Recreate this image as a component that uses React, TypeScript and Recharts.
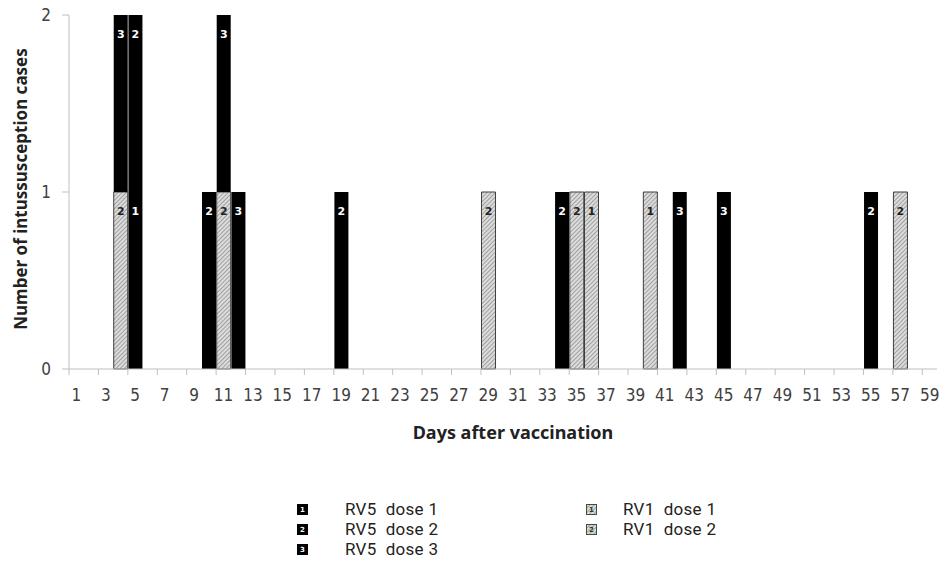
import React from 'react';
import { BarChart, Bar, XAxis, YAxis, LabelList } from 'recharts';

// days after vaccination (categories)
const days = Array.from({ length: 59 }, (_, i) => i + 1);

// day of onset for each intussusception case, per vaccine / dose
const rv5Dose1Days = [5];
const rv5Dose2Days = [5, 10, 19, 34, 55];
const rv5Dose3Days = [4, 11, 12, 42, 45];
const rv1Dose1Days = [36, 40];
const rv1Dose2Days = [4, 11, 29, 35, 57];

const yTicks = [0, 1, 2];

const count = (list: number[], d: number) => list.filter((v) => v === d).length;

const data = days.map((d) => ({
  day: d,
  rv5d1: count(rv5Dose1Days, d),
  rv5d2: count(rv5Dose2Days, d),
  rv1d1: count(rv1Dose1Days, d),
  rv1d2: count(rv1Dose2Days, d),
  rv5d3: count(rv5Dose3Days, d),
}));

// stacking order bottom -> top
const series = [
  { key: 'rv5d1', dose: '1', hatched: false },
  { key: 'rv5d2', dose: '2', hatched: false },
  { key: 'rv1d1', dose: '1', hatched: true },
  { key: 'rv1d2', dose: '2', hatched: true },
  { key: 'rv5d3', dose: '3', hatched: false },
];

const W = 939;
const H = 450;
const LEFT = 69;
const RIGHT = 937;
const BAND = (RIGHT - LEFT) / days.length;
const AXIS = '#bfbfbf';
const TICK_FONT = '"Liberation Sans Narrow", "DejaVu Sans Condensed", sans-serif';
const TEXT_FONT = '"Noto Sans", "Open Sans", sans-serif';
const LEGEND_FONT = 'Roboto, "Noto Sans", sans-serif';

const XTick = (props: any) => {
  const { x, y, payload } = props;
  const bx = x - BAND / 2;
  return (
    <g>
      <line x1={bx} x2={bx} y1={y - 6} y2={y} stroke={AXIS} strokeWidth={1} />
      <text x={x} y={y + 20} textAnchor="middle" dominantBaseline="central"
        fontSize={17} fill="#404040" fontFamily={TICK_FONT}>
        {payload.value}
      </text>
    </g>
  );
};

const YTick = (props: any) => {
  const { x, y, payload } = props;
  return (
    <text x={x - 5} y={y} textAnchor="end" dominantBaseline="central"
      fontSize={17} fill="#404040" fontFamily={TICK_FONT}>
      {payload.value}
    </text>
  );
};

const segLabel = (dose: string, hatched: boolean) => (p: any) => {
  const { x, y, width, height } = p;
  if (!height || height <= 0) return null;
  return (
    <text x={x + width / 2} y={y + 19} textAnchor="middle" dominantBaseline="central"
      fontSize={11} fontWeight="bold" fontFamily='"DejaVu Sans", sans-serif'
      fill={hatched ? '#222' : '#fff'}>
      {dose}
    </text>
  );
};

const LegendBox = ({ dose, hatched }: { dose: string; hatched: boolean }) => (
  <svg width={11} height={11} style={{ display: 'block' }}>
    <defs>
      <pattern id={`lg-hatch-${dose}`} patternUnits="userSpaceOnUse" width={3} height={3}
        patternTransform="rotate(45)">
        <rect width={3} height={3} fill="#dcdcdc" />
        <line x1={0} y1={0} x2={0} y2={3} stroke="#777" strokeWidth={1.2} />
      </pattern>
    </defs>
    <rect x={0.5} y={0.5} width={10} height={10}
      fill={hatched ? `url(#lg-hatch-${dose})` : '#000'}
      stroke={hatched ? '#3d4f3d' : '#000'} strokeWidth={1} />
    <text x={5.5} y={6} textAnchor="middle" dominantBaseline="central" fontSize={7}
      fontWeight="bold" fontFamily='"DejaVu Sans", sans-serif' fill={hatched ? '#333' : '#fff'}>
      {dose}
    </text>
  </svg>
);

const LegendRow = ({ dose, hatched, text, left, top }: any) => (
  <div style={{ position: 'absolute', left, top, display: 'flex', alignItems: 'center', height: 20 }}>
    <LegendBox dose={dose} hatched={hatched} />
    <span style={{ marginLeft: hatched ? 26 : 37, fontSize: 17, color: '#222', fontFamily: LEGEND_FONT, whiteSpace: 'pre', lineHeight: '20px', letterSpacing: 0.3 }}>
      {text}
    </span>
  </div>
);

export default function App() {
  return (
    <div style={{ position: 'absolute', left: 0, top: 0, width: 939, height: 577, background: '#fff' }}>
      <BarChart width={W} height={H} data={data} barCategoryGap="4%"
        margin={{ top: 15, right: W - RIGHT, left: 0, bottom: 0 }}>
        <defs>
          <pattern id="hatch" patternUnits="userSpaceOnUse" width={3} height={3}
            patternTransform="rotate(45)">
            <rect width={3} height={3} fill="#dcdcdc" />
            <line x1={0} y1={0} x2={0} y2={3} stroke="#777" strokeWidth={1.2} />
          </pattern>
        </defs>
        <XAxis dataKey="day" interval={1} height={H - 369} tickSize={6} tickMargin={0}
          axisLine={{ stroke: AXIS }} tickLine={false} tick={<XTick />}
          label={{
            content: () => (
              <text x={513} y={432} textAnchor="middle" dominantBaseline="central"
                fontSize={18} fontWeight="bold" fill="#222" fontFamily={TEXT_FONT}>
                Days after vaccination
              </text>
            ),
          }} />
        <YAxis width={LEFT} domain={[0, 2]} ticks={yTicks} interval={0} tickSize={7}
          tickMargin={6} axisLine={{ stroke: AXIS }} tickLine={{ stroke: AXIS }} tick={<YTick />}
          label={{
            content: () => (
              <text x={20} y={189} textAnchor="middle" dominantBaseline="central"
                transform="rotate(-90 20 189)" fontSize={17} fontWeight="bold" fill="#222"
                fontFamily={TEXT_FONT}>
                Number of intussusception cases
              </text>
            ),
          }} />
        {series.map((s) => (
          <Bar key={s.key} dataKey={s.key} stackId="a" isAnimationActive={false}
            fill={s.hatched ? 'url(#hatch)' : '#000'}
            stroke={s.hatched ? '#3f3f3f' : 'none'} strokeWidth={1}>
            <LabelList dataKey={s.key} content={segLabel(s.dose, s.hatched)} />
          </Bar>
        ))}
      </BarChart>
      <LegendRow dose="1" hatched={false} text="RV5  dose 1" left={297} top={499} />
      <LegendRow dose="2" hatched={false} text="RV5  dose 2" left={297} top={519} />
      <LegendRow dose="3" hatched={false} text="RV5  dose 3" left={297} top={539} />
      <LegendRow dose="1" hatched={true} text="RV1  dose 1" left={586} top={499} />
      <LegendRow dose="2" hatched={true} text="RV1  dose 2" left={586} top={519} />
    </div>
  );
}
